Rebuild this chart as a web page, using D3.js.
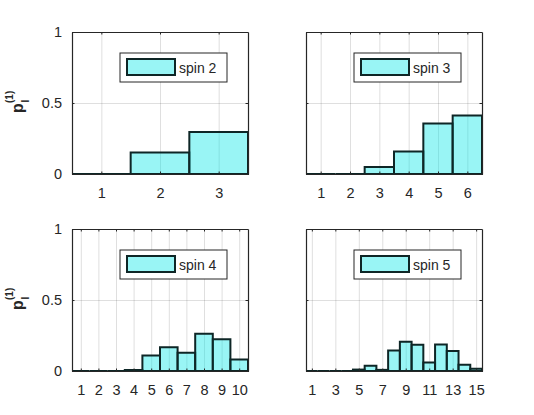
<!DOCTYPE html>
<html>
<head>
<meta charset="utf-8">
<script src="https://cdn.jsdelivr.net/npm/d3@7"></script>
<style>
  body { margin: 0; background: #fff; }
  svg { display: block; font-family: "Liberation Sans", Arial, sans-serif; }
</style>
</head>
<body>
<svg id="chart" width="534" height="415"></svg>
<script>
// values (probability per level)
var spin2 = [0, 0.152, 0.295];
var spin3 = [0, 0, 0.049, 0.159, 0.356, 0.412];
var spin4 = [0, 0, 0, 0.007, 0.109, 0.168, 0.128, 0.262, 0.224, 0.081];
var spin5 = [0, 0, 0, 0, 0.010, 0.037, 0.008, 0.145, 0.206, 0.185, 0.060, 0.187, 0.140, 0.044, 0.016];

var xTicks2 = [1, 2, 3];
var xTicks3 = [1, 2, 3, 4, 5, 6];
var xTicks4 = [1, 2, 3, 4, 5, 6, 7, 8, 9, 10];
var xTicks5 = [1, 3, 5, 7, 9, 11, 13, 15];
var yTicks = [0, 0.5, 1];
var legendNames = ["spin 2", "spin 3", "spin 4", "spin 5"];

var AX_COLOR = "#262626";
var FILL = "#00e6e6";
var EDGE = "#0e2626";
var AX_W = 176, AX_H = 142;

var panels = [
  { values: spin2, ticks: xTicks2, name: legendNames[0], left: 72,  top: 32,  ylabels: true },
  { values: spin3, ticks: xTicks3, name: legendNames[1], left: 306, top: 32,  ylabels: false },
  { values: spin4, ticks: xTicks4, name: legendNames[2], left: 72,  top: 229, ylabels: true },
  { values: spin5, ticks: xTicks5, name: legendNames[3], left: 306, top: 229, ylabels: false }
];

var svg = d3.select("#chart");

panels.forEach(function(p) { drawPanel(p); });

function drawPanel(p) {
  var n = p.values.length;
  var x = d3.scaleLinear().domain([0.5, n + 0.5]).range([0, AX_W]);
  var y = d3.scaleLinear().domain([0, 1]).range([AX_H, 0]);

  var g = svg.append("g")
    .attr("transform", "translate(" + p.left + "," + p.top + ")");

  // grid
  g.append("g")
    .attr("class", "grid")
    .attr("transform", "translate(0," + AX_H + ")")
    .call(d3.axisBottom(x).tickValues(p.ticks).tickSize(-AX_H).tickFormat(""))
    .call(function(s) { s.select(".domain").remove(); });
  g.append("g")
    .attr("class", "grid")
    .call(d3.axisLeft(y).tickValues([0.5]).tickSize(-AX_W).tickFormat(""))
    .call(function(s) { s.select(".domain").remove(); });
  g.selectAll(".grid line")
    .attr("stroke", AX_COLOR)
    .attr("stroke-opacity", 0.15)
    .attr("stroke-width", 1);

  // bars as closed paths so that zero bars still show their edge
  g.selectAll("path.bar")
    .data(p.values)
    .enter()
    .append("path")
    .attr("class", "bar")
    .attr("d", function(d, i) {
      var x0 = x(i + 0.5), x1 = x(i + 1.5), y0 = y(0), y1 = y(d);
      return "M" + x0 + "," + y0 + "V" + y1 + "H" + x1 + "V" + y0 + "Z";
    })
    .attr("fill", FILL)
    .attr("fill-opacity", 0.4)
    .attr("stroke", EDGE)
    .attr("stroke-width", 2);

  // axes with inward ticks on all four sides
  g.append("g")
    .attr("transform", "translate(0," + AX_H + ")")
    .call(d3.axisBottom(x).tickValues(p.ticks).tickSizeInner(-2.5).tickSizeOuter(0).tickPadding(14)
      .tickFormat(d3.format("d")));
  g.append("g")
    .call(d3.axisTop(x).tickValues(p.ticks).tickSizeInner(-2.5).tickSizeOuter(0).tickFormat(""));
  g.append("g")
    .call(d3.axisLeft(y).tickValues(yTicks).tickSizeInner(-2.5).tickSizeOuter(0).tickPadding(10)
      .tickFormat(p.ylabels ? d3.format("") : ""));
  g.append("g")
    .attr("transform", "translate(" + AX_W + ",0)")
    .call(d3.axisRight(y).tickValues(yTicks).tickSizeInner(-2.5).tickSizeOuter(0).tickFormat(""));

  g.selectAll(".domain").attr("stroke", AX_COLOR).attr("stroke-width", 1.2);
  g.selectAll(".tick line").filter(function() { return !this.parentNode.parentNode.classList.contains("grid"); })
    .attr("stroke", AX_COLOR);
  g.selectAll(".tick text")
    .attr("fill", AX_COLOR)
    .style("font-size", "14.5px")
    .style("font-family", "'Liberation Sans', Arial, sans-serif");

  // y label: p with stacked subscript I and superscript (1)
  if (p.ylabels) {
    var lab = g.append("g")
      .attr("transform", "translate(-49.5," + (AX_H / 2 + 2) + ") rotate(-90)");
    lab.append("text")
      .attr("x", -8)
      .attr("y", 0)
      .attr("fill", AX_COLOR)
      .style("font-size", "16px")
      .style("font-weight", "bold")
      .text("p");
    lab.append("text")
      .attr("x", 2.5)
      .attr("y", 6)
      .attr("fill", AX_COLOR)
      .style("font-size", "10px")
      .style("font-weight", "bold")
      .text("I");
    lab.append("text")
      .attr("x", 2)
      .attr("y", -10)
      .attr("fill", AX_COLOR)
      .style("font-size", "10px")
      .style("font-weight", "bold")
      .text("(1)");
  }

  // legend
  var leg = g.append("g").attr("transform", "translate(48,21)");
  leg.append("rect")
    .attr("width", 107)
    .attr("height", 29)
    .attr("fill", "#fff")
    .attr("stroke", AX_COLOR)
    .attr("stroke-width", 1);
  leg.append("rect")
    .attr("x", 7)
    .attr("y", 6)
    .attr("width", 48)
    .attr("height", 16)
    .attr("fill", FILL)
    .attr("fill-opacity", 0.4)
    .attr("stroke", EDGE)
    .attr("stroke-width", 2);
  leg.append("text")
    .attr("x", 59)
    .attr("y", 19.5)
    .attr("fill", AX_COLOR)
    .style("font-size", "14px")
    .text(p.name);
}
</script>
</body>
</html>
